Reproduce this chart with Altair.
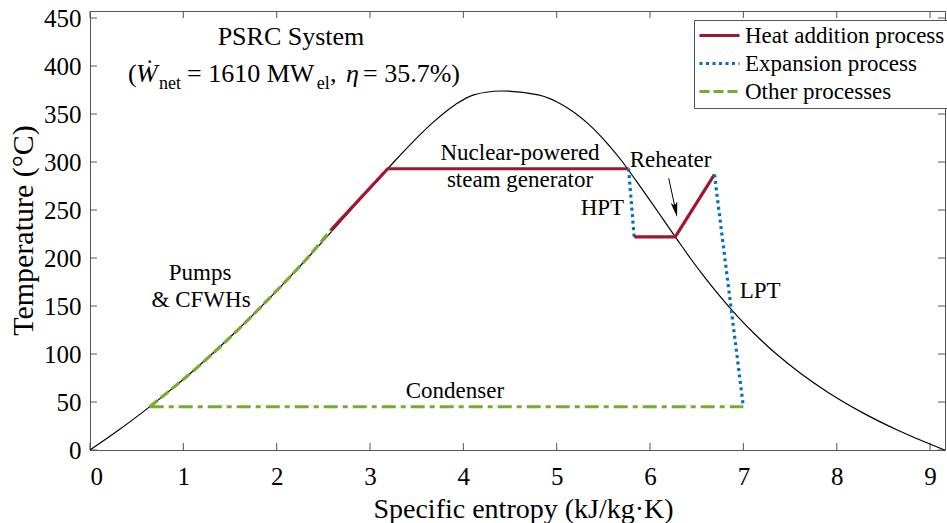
import altair as alt
import pandas as pd

# ---------------- data ----------------
# saturation dome (water)
liq_T = [0.01, 20, 40, 60, 80, 100, 120, 140, 160, 180, 200, 220, 240, 260, 280, 300, 320, 340, 360, 370, 373.95]
liq_s = [0.0, 0.2965, 0.5724, 0.8313, 1.0756, 1.3072, 1.5279, 1.7392, 1.9426, 2.1392, 2.3305, 2.5177,
         2.7020, 2.8849, 3.0685, 3.2552, 3.4494, 3.6601, 3.9167, 4.1112, 4.4070]
vap_T = [370, 360, 340, 320, 300, 280, 260, 240, 220, 200, 180, 160, 140, 120, 100, 80, 60, 40, 20, 0.01]
vap_s = [4.8012, 5.0536, 5.3357, 5.5362, 5.7059, 5.8541, 5.9995, 6.1423, 6.2854, 6.4302, 6.5841, 6.7502,
         6.9298, 7.1292, 7.3541, 7.6111, 7.9081, 8.2557, 8.6661, 9.1556]

# cycle processes
heat_s = [2.58, 3.19, 5.77]
heat_T = [229, 293, 293]
hpt_s = [5.77, 5.83]
hpt_T = [293, 222]
reheat_s = [5.83, 6.27, 6.69]
reheat_T = [222, 222, 287]
lpt_s = [6.69, 7.00]
lpt_T = [287, 45]
pump_s = [0.64, 0.83, 1.08, 1.31, 1.53, 1.74, 1.94, 2.14, 2.33, 2.58]
pump_T = [45, 60, 80, 100, 120, 140, 160, 180, 200, 229]
cond_s = [7.00, 0.64]
cond_T = [45, 45]

processes = ["Heat addition process", "Expansion process", "Other processes"]
proc_colors = ["#A2142F", "#0072BD", "#77AC30"]

x_ticks = [0, 1, 2, 3, 4, 5, 6, 7, 8, 9]
y_ticks = [0, 50, 100, 150, 200, 250, 300, 350, 400, 450]

# annotations
ann_text = ["Nuclear-powered", "steam generator", "Reheater", "HPT", "LPT", "Pumps", "& CFWHs", "Condenser", "PSRC System"]
ann_s = [4.607, 4.607, 6.22, 5.49, 7.18, 1.18, 1.19, 3.91, 2.153]
ann_T = [302, 274, 295, 244.8, 158.3, 177, 149, 54, 421.9]
ann_size = [23, 23, 23, 23, 23, 23, 23, 23, 26]

# second title line pieces (left aligned)
t2_text = ["(", "= 1610 MW", ",", "= 35.7%)"]
t2_s = [0.407, 1.040, 2.570, 2.925]
t2_T = [383.3, 383.3, 383.3, 383.3]
t2_size = [26, 26, 26, 26]
t2_sub_text = ["net", "el"]
t2_sub_s = [0.739, 2.430]
t2_sub_T = [376.5, 376.5]
t2_it_text = ["Ẇ", "η"]
t2_it_s = [0.493, 2.743]
t2_it_T = [383.3, 383.3]

# reheater arrow
arrow_s = [6.20, 6.273]
arrow_T = [283, 250.4]

# ---------------- tables ----------------
dome = pd.DataFrame({"s": liq_s + vap_s, "T": liq_T + vap_T})

rows = []
def add(seg, proc, ss, tt):
    for i, (a, b) in enumerate(zip(ss, tt)):
        rows.append({"seg": seg, "process": proc, "s": a, "T": b, "o": i})

add("pump", processes[2], pump_s, pump_T)
add("heat", processes[0], heat_s, heat_T)
add("hpt", processes[1], hpt_s, hpt_T)
add("reheat", processes[0], reheat_s, reheat_T)
add("lpt", processes[1], lpt_s, lpt_T)
cycle = pd.DataFrame(rows)
cond = pd.DataFrame({"s": cond_s, "T": cond_T})

ann = pd.DataFrame({"s": ann_s, "T": ann_T, "text": ann_text, "size": ann_size})
t2 = pd.DataFrame({"s": t2_s, "T": t2_T, "text": t2_text, "size": t2_size})
t2sub = pd.DataFrame({"s": t2_sub_s, "T": t2_sub_T, "text": t2_sub_text})
t2it = pd.DataFrame({"s": t2_it_s, "T": t2_it_T, "text": t2_it_text})
arrow_line = pd.DataFrame({"s": arrow_s, "T": arrow_T})
arrow_head = pd.DataFrame({"s": [arrow_s[1]], "T": [arrow_T[1]]})
xt = pd.DataFrame({"s": x_ticks})
yt = pd.DataFrame({"T": y_ticks})

# ---------------- chart ----------------
W, H = 855, 439
FONT = "Liberation Serif"
AX = "#555555"

xscale = alt.Scale(domain=[0, 9.16], nice=False, zero=False)
yscale = alt.Scale(domain=[0, 457.3], nice=False, zero=True)

xaxis = alt.Axis(values=x_ticks, ticks=False, domain=False, grid=False,
                 labelFont=FONT, labelFontSize=25, labelColor="black", labelPadding=14,
                 titleFont=FONT, titleFontSize=28, titleFontWeight="normal", titleColor="black",
                 titleX=433, titleY=67, titleBaseline="alphabetic", titleAlign="center")
yaxis = alt.Axis(values=y_ticks, ticks=False, domain=False, grid=False,
                 labelFont=FONT, labelFontSize=25, labelColor="black", labelPadding=9,
                 titleFont=FONT, titleFontSize=30, titleFontWeight="normal", titleColor="black",
                 titleX=-58, titleY=219, titleAngle=270, titleBaseline="alphabetic", titleAlign="center")

X = alt.X("s:Q", scale=xscale, axis=xaxis, title="Specific entropy (kJ/kg·K)")
Y = alt.Y("T:Q", scale=yscale, axis=yaxis, title="Temperature (°C)")

dome_l = alt.Chart(dome).mark_line(color="black", strokeWidth=1.2, interpolate="monotone").encode(x=X, y=Y)

cond_l = alt.Chart(cond).mark_line(color=proc_colors[2], strokeWidth=3, strokeDash=[14, 5, 5, 5]).encode(x=X, y=Y)

cycle_l = alt.Chart(cycle).mark_line(strokeWidth=3.2, strokeCap="butt").encode(
    x=X, y=Y,
    color=alt.Color("process:N", scale=alt.Scale(domain=processes, range=proc_colors), title=None),
    strokeDash=alt.StrokeDash("process:N", scale=alt.Scale(domain=processes, range=[[1, 0], [3, 3.5], [10, 4]]), title=None),
    detail="seg:N",
    order="o:Q",
)

ann_l = alt.Chart(ann).mark_text(font=FONT, color="black", align="center", baseline="alphabetic").encode(
    x=X, y=Y, text="text:N", size=alt.Size("size:Q", scale=None))
t2_l = alt.Chart(t2).mark_text(font=FONT, color="black", align="left", baseline="alphabetic").encode(
    x=X, y=Y, text="text:N", size=alt.Size("size:Q", scale=None))
t2sub_l = alt.Chart(t2sub).mark_text(font=FONT, fontSize=18, color="black", align="left", baseline="alphabetic").encode(
    x=X, y=Y, text="text:N")
t2it_l = alt.Chart(t2it).mark_text(font=FONT, fontSize=26, fontStyle="italic", color="black", align="left", baseline="alphabetic").encode(
    x=X, y=Y, text="text:N")

arrow_l = alt.Chart(arrow_line).mark_line(color="black", strokeWidth=1).encode(x=X, y=Y)
arrow_h = alt.Chart(arrow_head).mark_point(
    shape="M0,1 L-0.45,-1 L0,-0.55 L0.45,-1 Z", size=225, filled=True, color="black", opacity=1, angle=348
).encode(x=X, y=Y)

xt_bot = alt.Chart(xt).mark_rule(color=AX, strokeWidth=1).encode(x=X, y=alt.value(H), y2=alt.value(H - 7))
xt_top = alt.Chart(xt).mark_rule(color=AX, strokeWidth=1).encode(x=X, y=alt.value(0), y2=alt.value(7))
yt_left = alt.Chart(yt).mark_rule(color=AX, strokeWidth=1).encode(y=Y, x=alt.value(0), x2=alt.value(7))
yt_right = alt.Chart(yt).mark_rule(color=AX, strokeWidth=1).encode(y=Y, x=alt.value(W - 7), x2=alt.value(W))

chart = alt.layer(
    xt_bot, xt_top, yt_left, yt_right,
    dome_l, cond_l, cycle_l, arrow_l, arrow_h,
    ann_l, t2_l, t2sub_l, t2it_l,
).properties(
    width=W, height=H,
    autosize=alt.AutoSizeParams(type="none"),
    padding={"left": 90, "top": 11, "right": 2, "bottom": 73},
    background="white",
).configure_view(
    stroke=AX, strokeWidth=1
).configure_legend(
    orient="none", legendX=604, legendY=9,
    fillColor="white", strokeColor=AX, padding=4, cornerRadius=0,
    labelFont=FONT, labelFontSize=23, labelColor="black", labelOffset=14, labelLimit=400,
    symbolType="M-2,0H2", symbolSize=400, symbolOffset=10, symbolStrokeWidth=3, rowPadding=4,
)

chart.save("out.html", embed_options={"renderer": "svg", "actions": False})
